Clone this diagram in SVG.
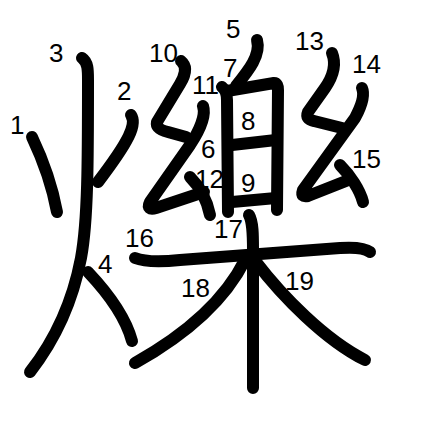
<svg xmlns="http://www.w3.org/2000/svg" width="447" height="447" viewBox="0 0 447 447">
<style>
.s{fill:none;stroke:#000;stroke-width:12;stroke-linecap:round;stroke-linejoin:round}
.n{font-family:"Liberation Sans",Arial,sans-serif;font-size:26px;fill:#000}
</style>
<rect width="447" height="447" fill="#fff"/>
<g id="strokes">
<path id="s1" class="s" d="M32,137 C42,158 52,185 57,212"/>
<path id="s2" class="s" d="M131,115 C137,124 130,140 98,182"/>
<path id="s3" class="s" d="M82,58 C88,62 88,70 88,80 C88,160 88,220 81,258 C73,300 55,340 30,372"/>
<path id="s4" class="s" d="M88,272 C105,290 125,315 132,341"/>
<path id="s5" class="s" d="M257,40 C261,55 249,70 236,86"/>
<path id="s6" class="s" d="M222,87 C226,90 227,94 227,100 L228,212"/>
<path id="s7" class="s" d="M227,91 L274,83 C277,83 278,86 278,90 L277,210"/>
<path id="s8" class="s" d="M232,145 L276,140"/>
<path id="s9" class="s" d="M232,202 L276,198"/>
<path id="s10" class="s" d="M181,61 C187,66 186,74 180,84 L157,122 C156,127 160,130 168,132 L186,137"/>
<path id="s11" class="s" d="M203,106 C206,115 200,130 190,145 L150,202 C147,208 150,210 156,208 L204,192"/>
<path id="s12" class="s" d="M190,177 C200,187 207,200 210,215"/>
<path id="s13" class="s" d="M332,53 C336,63 334,75 325,88 L308,112 C306,117 308,120 314,121 L342,128"/>
<path id="s14" class="s" d="M362,88 C365,95 362,105 355,118 L303,190 C301,196 303,197 308,196 L346,181"/>
<path id="s15" class="s" d="M340,165 C350,175 360,190 363,202"/>
<path id="s16" class="s" d="M135,258 C145,262 160,262 180,260 L340,248 C355,247 365,248 370,252"/>
<path id="s17" class="s" d="M249,215 C253,222 253,235 253,250 L253,388"/>
<path id="s18" class="s" d="M245,260 C225,300 185,335 135,363"/>
<path id="s19" class="s" d="M256,262 C282,296 325,340 365,360"/>
</g>
<g id="numbers">
<text class="n" x="10" y="134">1</text>
<text class="n" x="117" y="100">2</text>
<text class="n" x="49" y="62">3</text>
<text class="n" x="98" y="273">4</text>
<text class="n" x="226" y="38">5</text>
<text class="n" x="201" y="158">6</text>
<text class="n" x="223" y="77">7</text>
<text class="n" x="241" y="130">8</text>
<text class="n" x="241" y="192">9</text>
<text class="n" x="149" y="62">10</text>
<text class="n" x="192" y="94">11</text>
<text class="n" x="195" y="188">12</text>
<text class="n" x="295" y="50">13</text>
<text class="n" x="352" y="73">14</text>
<text class="n" x="352" y="168">15</text>
<text class="n" x="125" y="247">16</text>
<text class="n" x="214" y="238">17</text>
<text class="n" x="181" y="297">18</text>
<text class="n" x="285" y="290">19</text>
</g>
</svg>
